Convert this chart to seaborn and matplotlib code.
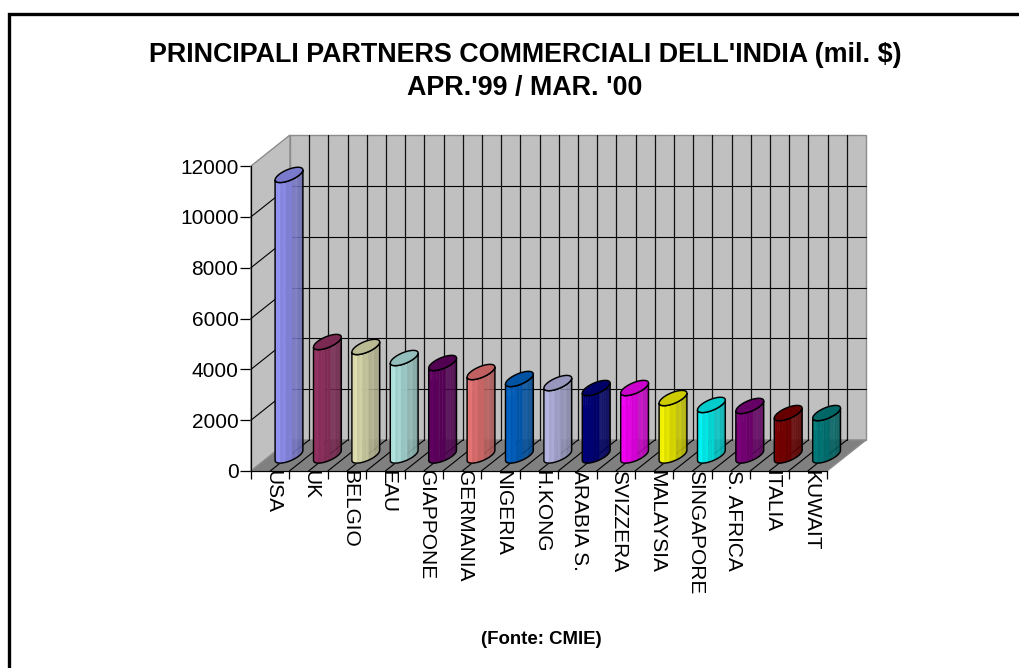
import numpy as np
import pandas as pd
import matplotlib
matplotlib.use("Agg")
import matplotlib.pyplot as plt
from matplotlib.collections import PolyCollection
from matplotlib.colors import to_rgb
from matplotlib.patches import Polygon, Rectangle
from matplotlib.path import Path
from matplotlib.transforms import Affine2D, IdentityTransform
import seaborn as sns

partners = ["USA", "UK", "BELGIO", "EAU", "GIAPPONE", "GERMANIA", "NIGERIA", "H.KONG",
            "ARABIA S.", "SVIZZERA", "MALAYSIA", "SINGAPORE", "S. AFRICA", "ITALIA", "KUWAIT"]
trade_musd = [11040, 4465, 4270, 3835, 3640, 3285, 3010, 2850,
              2655, 2655, 2260, 1990, 1950, 1670, 1670]
bar_colors = ["#9999FF", "#993366", "#E8E8B8", "#B8EEEA", "#660066", "#F07878", "#0066CC", "#BDBDEE",
              "#000080", "#FF00FF", "#FFFF00", "#00FFFF", "#800080", "#800000", "#008080"]
value_ticks = [0, 2000, 4000, 6000, 8000, 10000, 12000]
title_lines = ["PRINCIPALI PARTNERS COMMERCIALI DELL'INDIA (mil. $)", "APR.'99 / MAR. '00"]
source_note = "(Fonte: CMIE)"

W, H = 1019, 668
sns.set_style("white")
plt.rcParams["font.family"] = ["Liberation Sans", "DejaVu Sans"]
plt.rcParams["text.color"] = "black"
plt.rcParams["xtick.labelcolor"] = "black"
plt.rcParams["ytick.labelcolor"] = "black"

fig = plt.figure(figsize=(W / 100, H / 100), dpi=100, facecolor="white")
ax = fig.add_axes([251 / W, (H - 471) / H, 576 / W, 305 / H])
frame = pd.DataFrame({"partner": partners, "value": trade_musd})
sns.barplot(data=frame, x="partner", y="value", hue="partner", palette=bar_colors,
            legend=False, width=0.72, ax=ax, zorder=5)
ax.set_xlim(-0.5, len(partners) - 0.5)
ax.set_ylim(0, 12000)
ax.set_xlabel("")
ax.set_ylabel("")
ax.patch.set_visible(False)

# Depth of the box in pixels, and the offset that moves things onto the back wall
DX, DY = 39, 31
back = ax.transData + Affine2D().translate(DX, DY)
x0, x1 = ax.get_xlim()
y0, y1 = ax.get_ylim()
boundaries = np.arange(x0, x1 + 0.5)
half_steps = np.arange(x0, x1 + 0.25, 0.5)

# Left wall, back wall and floor
pt = ax.transData.transform
side = [pt((x0, y0)), pt((x0, y0)) + (DX, DY), pt((x0, y1)) + (DX, DY), pt((x0, y1))]
floor = [pt((x0, y0)), pt((x1, y0)), pt((x1, y0)) + (DX, DY), pt((x0, y0)) + (DX, DY)]
wall = [pt((x0, y0)) + (DX, DY), pt((x1, y0)) + (DX, DY), pt((x1, y1)) + (DX, DY), pt((x0, y1)) + (DX, DY)]
for pts, fc in ((side, "#C0C0C0"), (wall, "#C0C0C0"), (floor, "#808080")):
    ax.add_patch(Polygon(pts, closed=True, facecolor=fc, edgecolor="#8C8C8C", linewidth=1.0,
                         transform=IdentityTransform(), clip_on=False, zorder=1))

# Gridlines across the walls and the floor, twice per category along the width
for v in value_ticks:
    a = pt((x0, v))
    if y0 < v < y1:
        ax.plot([x0, x1], [v, v], color="black", lw=0.8, transform=back, clip_on=False, zorder=2)
        ax.plot([a[0], a[0] + DX], [a[1], a[1] + DY], color="black", lw=0.8,
                transform=IdentityTransform(), clip_on=False, zorder=2)
for b in half_steps[1:-1]:
    ax.plot([b, b], [y0, y1], color="#101010", lw=0.9, transform=back, clip_on=False, zorder=2)
    a = pt((b, y0))
    ax.plot([a[0], a[0] + DX], [a[1], a[1] + DY], color="black", lw=0.8,
            transform=IdentityTransform(), clip_on=False, zorder=2.5)

# Each bar becomes a sheared cylinder standing in the middle of the floor
A, EY_A, EY_B = 13.9, 5.0, 5.8
CENTER_SHIFT = np.array([DX / 2 - 0.7, DY / 2])
facet_t = np.linspace(np.pi, 2 * np.pi, 15)
rim_t = np.linspace(0, 2 * np.pi, 41)
stripe = np.array([0, .04, -.01, .04, -.02, .04, -.01, .03, -.02, .04, -.01, .03, -.02, .04])
OPAQUE_FACETS = 8  # the facets further right let the walls show through slightly


def rim(center, t):
    return np.column_stack([center[0] + A * np.cos(t),
                            center[1] + EY_A * np.cos(t) + EY_B * np.sin(t)])


for patch, color in zip(ax.patches[:len(partners)], bar_colors):
    cx = patch.get_x() + patch.get_width() / 2
    base = pt((cx, patch.get_y())) + CENTER_SHIFT
    top = pt((cx, patch.get_y() + patch.get_height())) + CENTER_SHIFT
    rgb = np.array(to_rgb(color))
    low, high = rim(base, facet_t), rim(top, facet_t)
    quads, shades = [], []
    for i in range(len(facet_t) - 1):
        quads.append([low[i], low[i + 1], high[i + 1], high[i]])
        f = 1.0 - 0.36 * i / (len(facet_t) - 2) + stripe[i]
        alpha = 1.0 if i < OPAQUE_FACETS else 0.85
        shades.append((*np.clip(rgb * f, 0, 1), alpha))
    ax.add_collection(PolyCollection(quads, facecolors=shades, edgecolors="face", linewidths=0.3,
                                     transform=IdentityTransform(), clip_on=False, zorder=6))
    front = np.vstack([low[:OPAQUE_FACETS + 1], high[:OPAQUE_FACETS + 1][::-1]])
    patch.set_clip_path(Path(np.vstack([front, front[:1]])), IdentityTransform())
    outline = np.vstack([low, high[::-1]])
    ax.add_patch(Polygon(outline, closed=True, facecolor="none", edgecolor="black", linewidth=1.05,
                         transform=IdentityTransform(), clip_on=False, zorder=7))
    ax.add_patch(Polygon(rim(top, rim_t), closed=True, facecolor=np.clip(rgb * 0.8, 0, 1),
                         edgecolor="black", linewidth=1.05,
                         transform=IdentityTransform(), clip_on=False, zorder=8))

# Axes: ticks at the category boundaries, labels reading downwards
sns.despine(ax=ax, top=True, right=True)
for name in ("left", "bottom"):
    ax.spines[name].set_color("black")
    ax.spines[name].set_linewidth(0.9)
    ax.spines[name].set_zorder(3)
ax.set_yticks(value_ticks)
ax.tick_params(axis="y", length=8, width=0.9, color="black", pad=1, labelsize=15, left=True)
ax.set_xticks(np.arange(len(partners)))
ax.set_xticklabels(partners, rotation=-90, ha="center", va="top", fontsize=15)
ax.set_xticks(boundaries, minor=True)
ax.tick_params(axis="x", which="minor", length=6, width=0.9, color="black", bottom=True)
ax.tick_params(axis="x", which="major", length=0, pad=2)
for label in ax.get_xticklabels():
    label.set_transform(label.get_transform() + Affine2D().translate(2.5, 3.5))

# Titles
fig.text(525 / W, 1 - 55.5 / H, title_lines[0], ha="center", va="center", fontsize=19.4, fontweight="bold")
fig.text(525 / W, 1 - 88 / H, title_lines[1], ha="center", va="center", fontsize=19.4, fontweight="bold")
fig.text(541 / W, 1 - 639 / H, source_note, ha="center", va="center", fontsize=13.4, fontweight="bold")

# Heavy border along the top and left edges, running off the sheet
fig.add_artist(Rectangle((8.5 / W, -0.1), 1.2, (H - 14) / H + 0.1, fill=False,
                         edgecolor="black", linewidth=2.4, transform=fig.transFigure))

fig.savefig("out.png", dpi=100)
